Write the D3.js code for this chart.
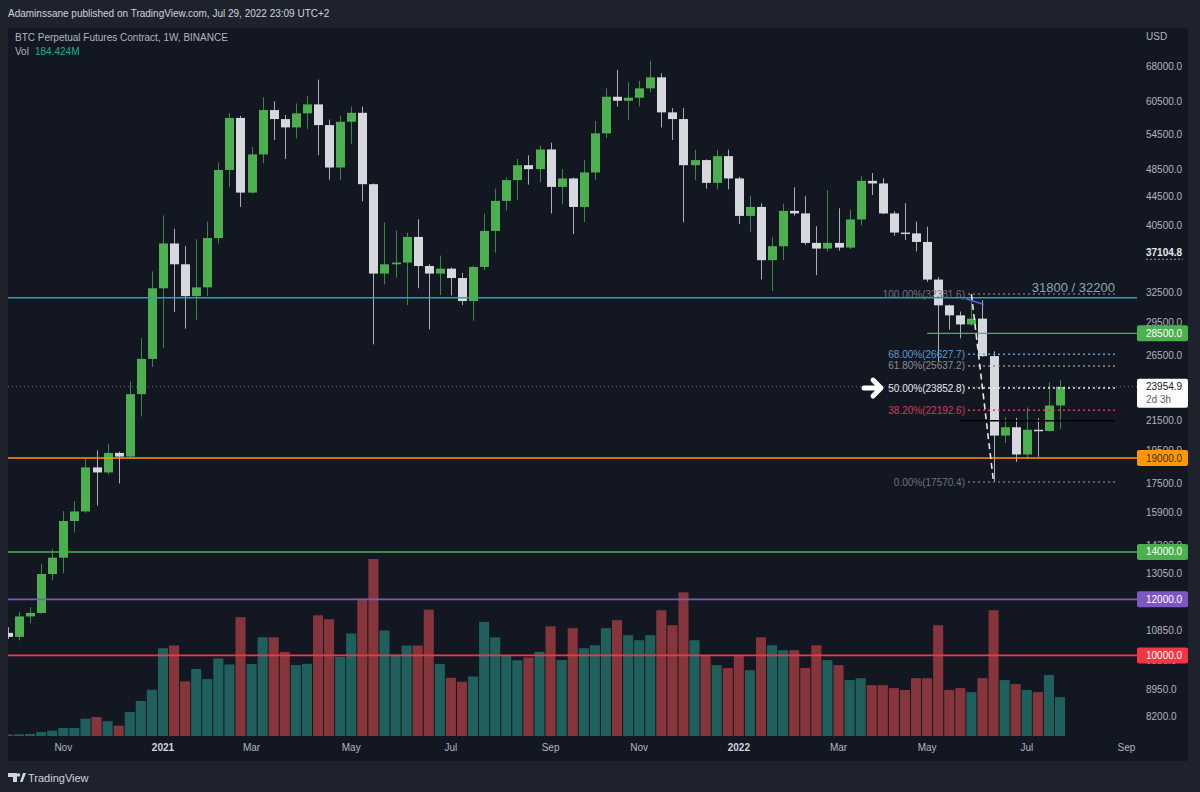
<!DOCTYPE html>
<html><head><meta charset="utf-8">
<script src="https://cdn.jsdelivr.net/npm/d3@7"></script>
<style>
body{margin:0;background:#1e222d;}
svg{display:block;font-family:"Liberation Sans",Arial,sans-serif;}
</style>
</head><body><svg id="c" width="1200" height="792"></svg>
<script>
// ---------- DATA ----------
const firstWeek = "2020-09-28";
const lastWeek = "2022-07-25";
const opens = [10760,10620,11350,11480,13030,13740,15480,15970,18430,18130,19320,19090,23390,26230,33000,38180,35680,32170,33100,38860,48490,57430,45050,51010,58920,57220,55690,58290,60020,56110,48880,56720,58400,46300,34620,35680,35880,39000,35480,34620,35180,34120,31660,35370,39770,43850,46920,49250,48620,51840,45890,47170,43000,48100,54620,61530,60730,61330,63240,65540,58480,57220,49250,50070,46500,50720,47170,41760,43000,36160,37840,42450,42100,38250,37550,38250,37670,41280,46800,46410,42100,39560,39450,38370,33950,31220,30220,29340,29900,26470,20440,21000,19220,20830,20750,22540];
const highs = [10960,11530,11700,13470,14120,15980,16520,18930,19480,19900,19400,24390,28080,34860,41830,40050,37850,38700,41000,49700,58350,57800,52230,61430,60630,58000,60200,61600,65070,57120,57890,59610,59600,46400,40860,39820,39500,41320,35700,36700,35300,34700,35500,42060,45620,47300,50250,50850,52500,52990,48630,47300,50070,56850,63220,67130,64500,64800,69180,66400,59300,59300,51760,50200,51740,51800,47400,44590,43500,38960,43460,45840,44520,40380,45410,42810,42600,47500,48010,47200,42400,43520,41000,40320,34200,31300,30600,32330,31750,26900,21700,21650,22400,21640,24300,24470];
const lows = [10550,10500,11100,11450,12760,13060,14910,15900,16270,18000,17490,19000,21750,25550,27200,30560,28940,29790,32200,38180,45850,43000,44900,49560,53440,50260,53730,55360,50880,46970,46970,52800,43800,27500,33420,34140,31250,33000,28870,32280,32250,31250,29700,35000,37050,42500,43960,46230,46600,42090,43400,39350,40950,46920,53790,59600,57020,59640,62460,55690,53440,40890,46900,45620,45520,45520,40700,39670,33960,32710,36160,41800,38000,34440,37200,37300,37500,40500,44700,42000,39160,38600,37210,33700,26000,28850,28040,29200,26400,17570,19950,18760,19000,19080,20700,20900];
const closes = [10620,11350,11480,13030,13740,15480,15970,18430,18130,19320,19090,23390,26230,33000,38180,35680,32170,33100,38860,48490,57430,45050,51010,58920,57220,55690,58290,60020,56110,48880,56720,58400,46300,34620,35680,35880,39000,35480,34620,35180,34120,31660,35370,39770,43850,46920,49250,48620,51840,45890,47170,43000,48100,54620,61530,60730,61330,63240,65540,58480,57220,49250,50070,46500,50720,47170,41760,43000,36160,37840,42450,42100,38250,37550,38250,37670,41280,46800,46410,42100,39560,39450,38370,33950,31220,30220,29340,29900,26470,20440,21000,19220,20830,20750,22540,23954.9];
const volumes = [7,8,10,19,25,38,38,82,90,70,49,114,166,219,416,429,259,318,270,368,339,563,341,468,468,399,336,342,572,553,375,486,651,839,500,386,429,429,599,341,276,257,282,541,467,382,359,372,399,520,360,511,416,430,511,549,478,454,478,596,525,681,454,383,336,322,383,312,468,430,407,407,322,430,360,336,265,274,241,241,227,218,274,274,525,218,227,208,274,596,265,246,218,208,289,184.424];

const priceTicks = [68000,60500,54500,48500,44500,40500,32500,29500,26500,21500,19500,17500,15900,14300,13050,10850,9850,8950,8200];
const timeTickDates = ["2020-11-02","2021-01-04","2021-03-01","2021-05-03","2021-07-05","2021-09-06","2021-11-01","2022-01-03","2022-03-07","2022-05-02","2022-07-04","2022-09-05"];
const timeTickLabels = ["Nov","2021","Mar","May","Jul","Sep","Nov","2022","Mar","May","Jul","Sep"];

const levelValues = [19000,14000,12000,10000];
const levelColors = ["#ff9800","#4caf50","#7e57c2","#f23645"];
const levelTextColors = ["#3a2a10","#ffffff","#ffffff","#ffffff"];
const resistanceValue = 32000;
const rayValue = 28500;
const fibLevels = [32381.6,26627.7,25637.2,23852.8,22192.6,17570.4];
const fibLabels = ["100.00%","68.00%","61.80%","50.00%","38.20%","0.00%"];
const fibColors = ["#6f727c","#5b9bd5","#8a8d96","#e6e8ee","#d23a58","#6f727c"];
const lastPrice = 23954.9;
const blackLevel = 21450;
const markedPrice = 37104.8;

// ---------- SCALES ----------
const parse = d3.utcParse("%Y-%m-%d");
const dates = d3.utcMonday.range(parse(firstWeek), d3.utcDay.offset(parse(lastWeek), 1));
const x = d3.scaleUtc().domain([parse("2020-10-05"), parse(lastWeek)]).range([19, 1060]);
const y = d3.scaleLog().domain([68000, 8200]).range([66, 716.4]);
const yv = d3.scaleLinear().domain([0, d3.max(volumes)]).range([736, 559]);
const step = x(parse("2020-10-12")) - x(parse("2020-10-05"));

const svg = d3.select("#c");
svg.append("rect").attr("width",1200).attr("height",792).attr("fill","#1e222d");
svg.append("rect").attr("x",8).attr("y",28).attr("width",1180).attr("height",733).attr("fill","#131722");

const defs = svg.append("defs");
defs.append("clipPath").attr("id","plot").append("rect").attr("x",8).attr("y",28).attr("width",1129).attr("height",709);

const plot = svg.append("g").attr("clip-path","url(#plot)");

// volume
const bars = dates.map((d,i)=>({d,o:opens[i],h:highs[i],l:lows[i],c:closes[i],v:volumes[i]}));
plot.append("g").selectAll("rect").data(bars).join("rect")
  .attr("x", b => x(b.d) - step/2 + 0.5)
  .attr("width", step - 1)
  .attr("y", b => yv(b.v))
  .attr("height", b => yv(0) - yv(b.v))
  .attr("fill", b => b.c >= b.o ? "#1f605c" : "#86353a");

// last price dotted line
plot.append("line").attr("x1",8).attr("x2",1137).attr("y1",y(lastPrice)).attr("y2",y(lastPrice))
  .attr("stroke","#6a6d78").attr("stroke-width",1).attr("stroke-dasharray","1,3");

// candles
const cg = plot.append("g");
cg.selectAll("line").data(bars).join("line")
  .attr("x1", b => Math.round(x(b.d))+0.5).attr("x2", b => Math.round(x(b.d))+0.5)
  .attr("y1", b => y(b.h)).attr("y2", b => y(b.l))
  .attr("stroke", b => b.c >= b.o ? "#3a8a3e" : "#a9acb4").attr("stroke-width",1);
cg.selectAll("rect").data(bars).join("rect")
  .attr("x", b => Math.round(x(b.d)) - 4)
  .attr("width", 9)
  .attr("y", b => y(Math.max(b.o,b.c)))
  .attr("height", b => Math.max(1.5, Math.abs(y(b.o) - y(b.c))))
  .attr("fill", b => b.c >= b.o ? "#4caf50" : "#d6d8de");

// horizontal levels
plot.append("line").attr("x1",8).attr("x2",1137).attr("y1",y(resistanceValue)).attr("y2",y(resistanceValue))
  .attr("stroke","#2aa2b4").attr("stroke-width",1.6);
const rayStart = x(parse("2022-05-02"));
plot.append("line").attr("x1",rayStart).attr("x2",1137).attr("y1",y(rayValue)).attr("y2",y(rayValue))
  .attr("stroke","#4caf50").attr("stroke-width",1.2);
levelValues.forEach((v,k)=>{
  plot.append("line").attr("x1",8).attr("x2",1137).attr("y1",y(v)).attr("y2",y(v))
    .attr("stroke",levelColors[k]).attr("stroke-width",1.6);
});

// fib retracement
const fibX0 = 968, fibX1 = 1115;
fibLevels.forEach((v,k)=>{
  plot.append("line").attr("x1",fibX0).attr("x2",fibX1).attr("y1",y(v)).attr("y2",y(v))
    .attr("stroke",fibColors[k]).attr("stroke-width",1.5).attr("stroke-dasharray","2,3");
  plot.append("text").attr("x",965).attr("y",y(v)+3.5).attr("text-anchor","end")
    .attr("font-size",10).attr("fill",fibColors[k])
    .text(fibLabels[k] + "(" + d3.format(".1f")(v) + ")");
});
// trend line of fib
const aD = parse("2022-05-30"), bD = parse("2022-06-13");
plot.append("line").attr("x1",x(aD)).attr("y1",y(fibLevels[0])).attr("x2",x(bD)).attr("y2",y(fibLevels[5]))
  .attr("stroke","#e6e8ee").attr("stroke-width",1.6).attr("stroke-dasharray","6,4");
plot.append("line").attr("x1",966).attr("y1",y(31900)).attr("x2",984).attr("y2",y(31300))
  .attr("stroke","#5b5ff0").attr("stroke-width",1.5);
// black level
plot.append("line").attr("x1",960).attr("x2",1115).attr("y1",y(blackLevel)).attr("y2",y(blackLevel))
  .attr("stroke","#000000").attr("stroke-width",1.5);
// arrow
const ay = y(fibLevels[3]);
plot.append("path").attr("d",`M864,${ay} L880,${ay} M873,${ay-8} L881,${ay} L873,${ay+8}`)
  .attr("fill","none").attr("stroke","#ffffff").attr("stroke-width",5)
  .attr("stroke-linecap","round").attr("stroke-linejoin","round");
// resistance label
plot.append("text").attr("x",1115).attr("y",y(resistanceValue)-6).attr("text-anchor","end")
  .attr("font-size",13).attr("fill","#8ea6ad").text("31800 / 32200");

// ---------- AXES ----------
const ax = svg.append("g").attr("font-size",10);
ax.append("text").attr("x",1146).attr("y",40).attr("fill","#b2b5be").text("USD");
ax.selectAll(".pt").data(priceTicks).join("text").attr("class","pt")
  .attr("x",1146).attr("y",d=>y(d)+3.5).attr("fill","#b2b5be").text(d=>d3.format(".1f")(d));
ax.append("text").attr("x",1146).attr("y",y(markedPrice)+3.5).attr("fill","#e6e8ee").attr("font-weight","bold")
  .text(d3.format(".1f")(markedPrice));
ax.append("line").attr("x1",1146).attr("x2",1183).attr("y1",y(markedPrice)+7).attr("y2",y(markedPrice)+7)
  .attr("stroke","#9598a1").attr("stroke-dasharray","2,2");

function box(v, fill, tc){
  const yy = y(v);
  ax.append("rect").attr("x",1137).attr("y",yy-8).attr("width",51).attr("height",16).attr("rx",2).attr("fill",fill);
  ax.append("text").attr("x",1146).attr("y",yy+3.5).attr("fill",tc).text(d3.format(".1f")(v));
}
box(rayValue,"#4caf50","#ffffff");
levelValues.forEach((v,k)=>box(v, levelColors[k], levelTextColors[k]));
// last price box
const ly = y(lastPrice);
ax.append("rect").attr("x",1137).attr("y",ly-8).attr("width",51).attr("height",29).attr("rx",2).attr("fill","#ffffff");
ax.append("text").attr("x",1146).attr("y",ly+3.5).attr("fill","#131722").text(d3.format(".1f")(lastPrice));
ax.append("text").attr("x",1146).attr("y",ly+16).attr("fill","#5d606b").text("2d 3h");

// time axis
ax.selectAll(".tt").data(timeTickDates).join("text").attr("class","tt")
  .attr("x",d=>x(parse(d))).attr("y",751).attr("text-anchor","middle")
  .attr("fill",(d,i)=>/^\d/.test(timeTickLabels[i]) ? "#d1d4dc" : "#b2b5be")
  .attr("font-weight",(d,i)=>/^\d/.test(timeTickLabels[i]) ? "bold" : "normal")
  .text((d,i)=>timeTickLabels[i]);

// ---------- HEADER ----------
svg.append("text").attr("x",8).attr("y",17).attr("font-size",10).attr("fill","#d1d4dc")
  .text("Adaminssane published on TradingView.com, Jul 29, 2022 23:09 UTC+2");
svg.append("text").attr("x",15).attr("y",41).attr("font-size",10).attr("fill","#b2b5be")
  .text("BTC Perpetual Futures Contract, 1W, BINANCE");
svg.append("text").attr("x",15).attr("y",55).attr("font-size",10).attr("fill","#b2b5be").text("Vol");
svg.append("text").attr("x",35).attr("y",55).attr("font-size",10).attr("fill","#22ab94")
  .text(d3.format(".3f")(volumes[volumes.length-1]) + "M");

// footer logo
const lg = svg.append("g").attr("fill","#d1d4dc");
lg.append("path").attr("d","M8,773 h9 v9 h-4 v-5 h-5 z");
lg.append("circle").attr("cx",18.5).attr("cy",775).attr("r",1.8);
lg.append("path").attr("d","M20,782 l3,-9 h3 l-3.5,9 z");
svg.append("text").attr("x",28).attr("y",782).attr("font-size",11).attr("fill","#d1d4dc").text("TradingView");
</script>
</body></html>
